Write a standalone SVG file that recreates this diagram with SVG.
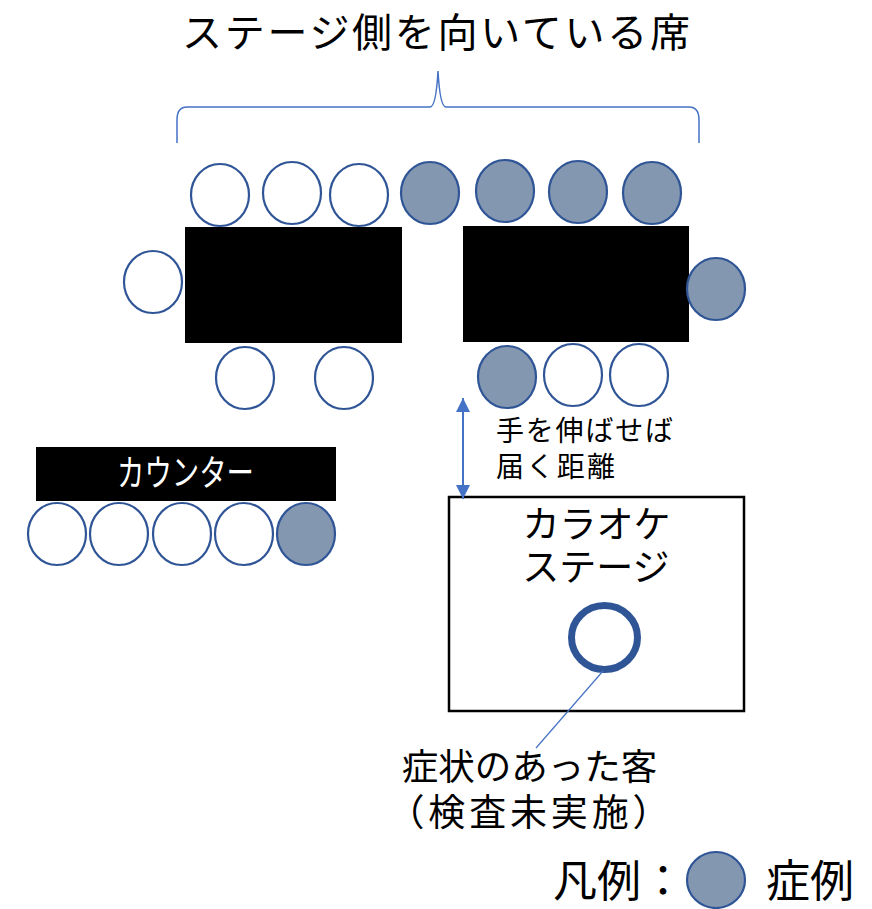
<svg xmlns="http://www.w3.org/2000/svg" width="872" height="909" viewBox="0 0 872 909">
<style>
text{font-family:"Noto Sans CJK JP","Noto Sans",sans-serif;fill:#000}
.seat{fill:#fff;stroke:#2F5597;stroke-width:2.2}
.sick{fill:#8497B0;stroke:#2F5597;stroke-width:2.2}
.tbl{fill:#000}
.blue{fill:none;stroke:#4472C4}
</style>
<defs>
<marker id="ah" viewBox="0 0 10 10" refX="10" refY="5" markerWidth="14" markerHeight="14" markerUnits="userSpaceOnUse" orient="auto-start-reverse" preserveAspectRatio="none">
<path d="M0,0 L10,5 L0,10 z" fill="#4472C4"/>
</marker>
</defs>
<rect width="872" height="909" fill="#fff"/>

<g id="title">
<text x="182" y="47" font-size="40" textLength="508" lengthAdjust="spacing">ステージ側を向いている席</text>
</g>

<g id="table-left">
<rect class="tbl" x="185" y="227" width="217" height="116"/>
</g>
<g id="table-right">
<rect class="tbl" x="463" y="226" width="226" height="116"/>
</g>

<g id="seats-top">
<ellipse class="seat" cx="220" cy="195" rx="29" ry="31"/>
<ellipse class="seat" cx="292" cy="193" rx="29" ry="31"/>
<ellipse class="seat" cx="359" cy="195" rx="29" ry="31"/>
<ellipse class="sick" cx="430" cy="193" rx="29" ry="31"/>
<ellipse class="sick" cx="505" cy="191" rx="29" ry="31"/>
<ellipse class="sick" cx="578" cy="192" rx="29" ry="31"/>
<ellipse class="sick" cx="652" cy="193" rx="29" ry="31"/>
</g>
<g id="seats-sides">
<ellipse class="seat" cx="153" cy="282" rx="29" ry="31"/>
<ellipse class="sick" cx="716" cy="289" rx="29" ry="31"/>
</g>
<g id="seats-bottom">
<ellipse class="seat" cx="245" cy="378" rx="29" ry="31"/>
<ellipse class="seat" cx="344" cy="378" rx="29" ry="31"/>
<ellipse class="sick" cx="507" cy="377" rx="29" ry="31"/>
<ellipse class="seat" cx="573" cy="375" rx="29" ry="31"/>
<ellipse class="seat" cx="639" cy="375" rx="29" ry="31"/>
</g>

<g id="reach-label">
<text x="496" y="441" font-size="28" textLength="177" lengthAdjust="spacing">手を伸ばせば</text>
<text x="496" y="477" font-size="28" textLength="119" lengthAdjust="spacing">届く距離</text>
</g>

<g id="counter">
<rect class="tbl" x="36" y="447" width="300" height="54"/>
<text x="117" y="486" font-size="36" style="fill:#fff" textLength="137" lengthAdjust="spacingAndGlyphs">カウンター</text>
</g>
<g id="seats-counter">
<ellipse class="seat" cx="57" cy="534" rx="29" ry="31"/>
<ellipse class="seat" cx="119" cy="534" rx="29" ry="31"/>
<ellipse class="seat" cx="182" cy="534" rx="29" ry="31"/>
<ellipse class="seat" cx="244" cy="534" rx="29" ry="31"/>
<ellipse class="sick" cx="306" cy="534" rx="29" ry="31"/>
</g>

<g id="karaoke-stage">
<rect x="449" y="497" width="295" height="214" fill="#fff" stroke="#000" stroke-width="2.5"/>
<text x="596.5" y="538" font-size="37" text-anchor="middle">カラオケ</text>
<text x="596" y="581" font-size="37" text-anchor="middle">ステージ</text>
</g>

<g id="patient">
<ellipse cx="604.5" cy="637.5" rx="33" ry="32" fill="#fff" stroke="#2F5597" stroke-width="7"/>
</g>

<g id="patient-label">
<text x="529.5" y="780" font-size="36.5" text-anchor="middle">症状のあった客</text>
<text x="528.5" y="826" font-size="37" text-anchor="middle" textLength="282" lengthAdjust="spacing">（検査未実施）</text>
</g>

<g id="legend">
<text x="553" y="897" font-size="44">凡例：</text>
<ellipse class="sick" cx="716" cy="880" rx="29" ry="28"/>
<text x="766" y="897" font-size="44">症例</text>
</g>

<g id="connectors">
<path id="brace" class="blue" stroke-width="1.5" d="M177,143 L177,120 Q177,107 187,107 L430,107 Q436,107 438,71 Q440,107 446,107 L689,107 Q699,107 699,120 L699,143"/>
<line id="reach-arrow" x1="463" y1="398" x2="463" y2="499" stroke="#4472C4" stroke-width="2" marker-start="url(#ah)" marker-end="url(#ah)"/>
<line id="callout" x1="603" y1="671" x2="536" y2="748" stroke="#4472C4" stroke-width="1.2"/>
</g>
</svg>
